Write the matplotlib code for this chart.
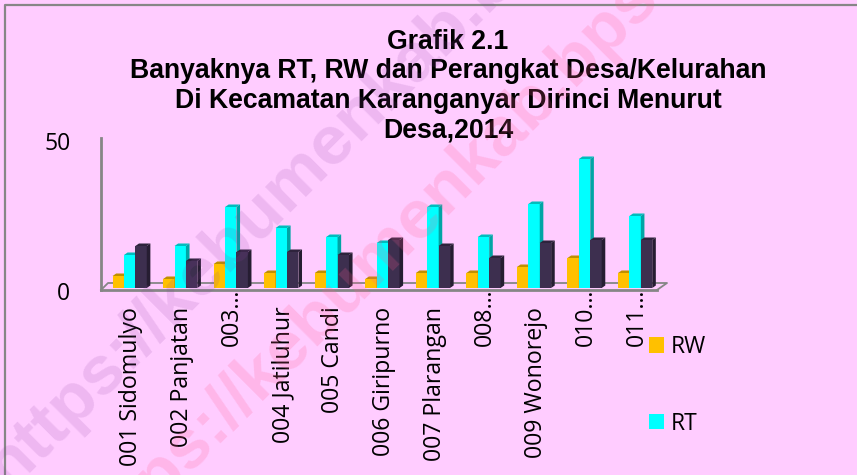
import numpy as np
import matplotlib
matplotlib.use("Agg")
import matplotlib.pyplot as plt
from matplotlib.patches import Polygon, Patch
from matplotlib.transforms import ScaledTranslation

categories = ["001 Sidomulyo", "002 Panjatan", "003…", "004 Jatiluhur", "005 Candi",
              "006 Giripurno", "007 Plarangan", "008…", "009 Wonorejo", "010…", "011…"]
rw = [4, 3, 8, 5, 5, 3, 5, 5, 7, 10, 5]
rt = [11, 14, 27, 20, 17, 15, 27, 17, 28, 43, 24]
perangkat = [14, 9, 12, 12, 11, 16, 14, 10, 15, 16, 16]
yticks = [0, 50]
title = "Grafik 2.1\nBanyaknya RT, RW dan Perangkat Desa/Kelurahan\nDi Kecamatan Karanganyar Dirinci Menurut\nDesa,2014"

W, H = 857, 475
BG = "#FFCCFF"
GREY = "#868686"

fig = plt.figure(figsize=(W / 100, H / 100), dpi=100, facecolor=BG)
ax = fig.add_axes([101 / W, 1 - 290 / H, 556 / W, 152 / H], facecolor="none")
ax.set_xlim(0, len(categories))
ax.set_ylim(-2 / 3, 50)

px_x = len(categories) / 556
px_y = 1 / 3
bw = 11.4 * px_x
shift = 3.4 * px_x
dx, dy = 3.6 * px_x, 2.5 * px_y
series = [(rw, "#FFC000", "#BF9000", "#A67D00"),
          (rt, "#00FFFF", "#00BDBD", "#00A5A5"),
          (perangkat, "#3D2F4F", "#2E233C", "#261D32")]

x = np.arange(len(categories)) + 0.5
for k, (vals, c, ctop, cside) in enumerate(series):
    xs = x + shift + (k - 1) * bw
    ax.bar(xs, vals, width=bw, color=c, linewidth=0, zorder=3, clip_on=False)
    for xi, v in zip(xs, vals):
        l, r = xi - bw / 2, xi + bw / 2
        ax.add_patch(Polygon([(l, v), (l + dx, v + dy), (r + dx, v + dy), (r, v)],
                             fc=ctop, lw=0, zorder=3, clip_on=False))
        ax.add_patch(Polygon([(r, v), (r + dx, v + dy), (r + dx, dy), (r, 0)],
                             fc=cside, lw=0, zorder=3, clip_on=False))

# floor of the 3d box
n = len(categories)
y_front, y_back = -2 / 3, 5 * px_y
ax.plot([0, 7 * px_x, n + 10 * px_x, n], [y_front, y_back, y_back, y_front],
        color=GREY, lw=1.3, zorder=1, clip_on=False)

for s in ("top", "right"):
    ax.spines[s].set_visible(False)
for s in ("left", "bottom"):
    ax.spines[s].set_color(GREY)
    ax.spines[s].set_linewidth(2)
    ax.spines[s].set_zorder(2)

ax.set_yticks(yticks)
ax.tick_params(axis="y", length=0, pad=22, labelsize=16.5)
down = ScaledTranslation(0, -3 / 100, fig.dpi_scale_trans)
for t in ax.get_yticklabels():
    t.set_family("Open Sans")
    t.set_transform(t.get_transform() + down)
ax.set_xticks(x + 5 * px_x)
ax.set_xticklabels(categories, rotation=90, family="Open Sans", fontsize=16.7, color="black")
ax.tick_params(axis="x", length=0)
for tick, name in zip(ax.xaxis.get_major_ticks(), categories):
    tick.set_pad(-1 if name.endswith("…") else 12)

handles = [Patch(facecolor="#FFC000", label="RW"), Patch(facecolor="#00FFFF", label="RT")]
ax.legend(handles=handles, loc="upper left", bbox_to_anchor=(649 / W, 1 - 335 / H),
          bbox_transform=fig.transFigure, frameon=False, labelspacing=2.3,
          handlelength=0.65, handleheight=0.65, handletextpad=0.3, borderpad=0, borderaxespad=0,
          prop={"family": "Open Sans", "size": 16.5})

fig.text(448 / W, 1 - 29 / H, title, ha="center", va="top", family="Liberation Sans",
         weight="bold", fontsize=19.2, linespacing=1.17, zorder=6)

# outer frame
fig.add_artist(plt.Line2D([5 / W, 5 / W, 1], [0, 1 - 5 / H, 1 - 5 / H], color=GREY, lw=1.6))

# watermark
wm = "https://kebumenkab.bps.go.id"
fig.text(8 / W, 1 - 490 / H, wm, rotation=45, rotation_mode="anchor", ha="left", va="baseline",
         family="Liberation Sans", weight="bold", fontsize=50, color="#8A3FA0", alpha=0.15, zorder=8)
fig.text(95 / W, 1 - 564 / H, wm, rotation=45, rotation_mode="anchor", ha="left", va="baseline",
         family="Liberation Sans", weight="bold", fontsize=50, color="#FF5C93", alpha=0.2, zorder=8)

fig.savefig("out.png", dpi=100, facecolor=BG)
plt.close(fig)
